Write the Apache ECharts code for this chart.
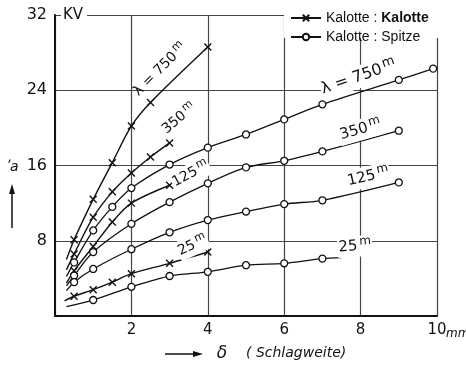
<!DOCTYPE html>
<html>
<head>
<meta charset="utf-8">
<script src="https://cdn.jsdelivr.net/npm/echarts@6/dist/echarts.min.js"></script>
<style>
  html, body { margin: 0; padding: 0; background: #fff; }
  #chart { width: 466px; height: 365px; }
</style>
</head>
<body>
<div id="chart"></div>
<script>
// Breakdown voltage (kV) against spark gap (mm) for several wavelengths λ.
const xRange = [0, 10];
const yRange = [0, 32];
const xStep = 2;
const yStep = 8;

// Kalotte : Kalotte (cross markers). First point of each list is where the
// drawn curve begins (no marker).
const kal750 = [[0.3, 6.0], [0.5, 8.1], [1, 12.4], [1.5, 16.3], [2, 20.2], [2.5, 22.7], [4, 28.6]];
const kal350 = [[0.3, 4.9], [0.5, 6.6], [1, 10.5], [1.5, 13.2], [2, 15.2], [2.5, 16.9], [3, 18.4]];
const kal125 = [[0.3, 3.5], [0.5, 4.8], [1, 7.4], [1.5, 10.0], [2, 12.0], [3, 13.9]];
const kal25  = [[0.25, 1.6], [0.5, 2.1], [1, 2.8], [1.5, 3.6], [2, 4.5], [3, 5.6], [4, 6.8]];

// Kalotte : Spitze (circle markers)
const spi750 = [[0.3, 4.2], [0.5, 5.7], [1, 9.1], [1.5, 11.6], [2, 13.6], [3, 16.1], [4, 17.9], [5, 19.3], [6, 20.9], [7, 22.5], [9, 25.1], [9.9, 26.3]];
const spi350 = [[0.3, 3.2], [0.5, 4.3], [1, 6.8], [2, 9.8], [3, 12.1], [4, 14.1], [5, 15.8], [6, 16.5], [7, 17.5], [9, 19.7]];
const spi125 = [[0.3, 2.7], [0.5, 3.6], [1, 5.0], [2, 7.1], [3, 8.9], [4, 10.2], [5, 11.1], [6, 11.9], [7, 12.3], [9, 14.2]];
const spi25  = [[0.3, 1.0], [1, 1.7], [2, 3.1], [3, 4.25], [4, 4.7], [5, 5.4], [6, 5.6], [7, 6.1]];
const spi25End = [7.5, 6.2];

const seriesNames = ['Kalotte : Kalotte', 'Kalotte : Spitze'];

// Curve captions: [text, x, y, angle in degrees, knocks out grid lines behind it]
const kalLabels = [
  ['λ = 750', 2.75, 26.2, 45, false],
  ['350', 3.25, 21.0, 40, false],
  ['125', 3.55, 15.1, 28, true],
  ['25', 3.6, 7.5, 25, true]
];
const spiLabels = [
  ['λ = 750', 7.95, 25.4, 19, true],
  ['350', 8.0, 19.8, 16, true],
  ['125', 8.2, 14.8, 13, true],
  ['25', 7.85, 7.4, 4, true]
];

const INK = '#111';
const crossPath = 'path://M0,0L10,10M10,0L0,10';

function build(points, end) {
  const out = points.map((p, i) => i === 0 ? { value: p, symbol: 'none' } : { value: p });
  if (end) out.push({ value: end, symbol: 'none' });
  return out;
}

function kalSeries(points) {
  return {
    name: seriesNames[0], type: 'line', smooth: 0.3, data: build(points),
    symbol: crossPath, symbolSize: 7,
    lineStyle: { color: INK, width: 1.4 },
    itemStyle: { color: INK, borderColor: INK, borderWidth: 1.4 },
    emphasis: { disabled: true }, z: 3
  };
}
function spiSeries(points, end) {
  return {
    name: seriesNames[1], type: 'line', smooth: 0.3, data: build(points, end),
    symbol: 'circle', symbolSize: 7,
    lineStyle: { color: INK, width: 1.3 },
    itemStyle: { color: '#fff', borderColor: INK, borderWidth: 1.3 },
    emphasis: { disabled: true }, z: 3
  };
}

const chart = echarts.init(document.getElementById('chart'), null, { renderer: 'canvas' });
const FONT = 'DejaVu Sans';

chart.setOption({
  animation: false,
  backgroundColor: '#fff',
  grid: { left: 55, right: 29, top: 15, bottom: 49 },
  xAxis: {
    type: 'value', min: xRange[0], max: xRange[1], interval: xStep,
    axisLine: { lineStyle: { color: INK, width: 2 } },
    axisTick: { show: false },
    splitLine: { lineStyle: { color: '#444', width: 1.2 } },
    axisLabel: {
      color: INK, fontFamily: FONT, fontSize: 15, margin: 7,
      formatter: v => v === 0 ? '' : String(v)
    }
  },
  yAxis: {
    type: 'value', min: yRange[0], max: yRange[1], interval: yStep,
    axisLine: { show: true, lineStyle: { color: INK, width: 2 } },
    axisTick: { show: false },
    splitLine: { lineStyle: { color: '#444', width: 1.2 } },
    axisLabel: {
      color: INK, fontFamily: FONT, fontSize: 16, margin: 8,
      formatter: v => v === 0 ? '' : String(v)
    }
  },
  legend: {
    orient: 'vertical', left: 285, top: 6, itemGap: 5,
    itemWidth: 30, itemHeight: 8,
    data: seriesNames,
    textStyle: {
      color: INK, fontFamily: 'Liberation Sans', fontSize: 14,
      rich: { b: { color: INK, fontFamily: 'Liberation Sans', fontSize: 14, fontWeight: 'bold' } }
    },
    formatter: n => n === seriesNames[0] ? 'Kalotte : {b|Kalotte}' : n,
    selectedMode: false
  },
  series: [
    kalSeries(kal750), kalSeries(kal350), kalSeries(kal125), kalSeries(kal25),
    spiSeries(spi750), spiSeries(spi350), spiSeries(spi125), spiSeries(spi25, spi25End)
  ]
});

function caption(item, size) {
  const [txt, x, y, deg, knockout] = item;
  const p = chart.convertToPixel({ gridIndex: 0 }, [x, y]);
  return {
    type: 'text', x: p[0], y: p[1], rotation: deg * Math.PI / 180, z: 10,
    style: {
      text: txt + '{m|m}', fill: INK, font: size + 'px "DejaVu Sans"',
      align: 'center', verticalAlign: 'middle',
      backgroundColor: knockout ? '#fff' : 'transparent', padding: [0, 1],
      rich: { m: { fontSize: size - 3, fontFamily: 'DejaVu Sans', fill: INK, padding: [0, 0, 9, 2] } }
    }
  };
}

const gridTop = chart.convertToPixel({ gridIndex: 0 }, [0, yRange[1]]);
const graphics = [
  // legend panel
  { type: 'rect', shape: { x: 284, y: 0, width: 182, height: 38 }, style: { fill: '#fff' }, z: 1 },
  { type: 'text', x: gridTop[0] + 6, y: gridTop[1], z: 10,
    style: { text: 'KV', fill: INK, font: '15px "DejaVu Sans"', verticalAlign: 'middle', backgroundColor: '#fff', padding: [2, 4, 2, 2] } },
  { type: 'text', x: 6, y: 167, z: 10,
    style: { text: 'ʹa', fill: INK, font: 'italic 14px "DejaVu Sans"', verticalAlign: 'middle' } },
  { type: 'line', shape: { x1: 12, y1: 228, x2: 12, y2: 190 }, style: { stroke: INK, lineWidth: 1.5 }, z: 10 },
  { type: 'polygon', shape: { points: [[12, 184], [9, 194], [15, 194]] }, style: { fill: INK }, z: 10 },
  { type: 'line', shape: { x1: 165, y1: 354, x2: 196, y2: 354 }, style: { stroke: INK, lineWidth: 1.5 }, z: 10 },
  { type: 'polygon', shape: { points: [[203, 354], [193, 351], [193, 357]] }, style: { fill: INK }, z: 10 },
  { type: 'text', x: 222, y: 354, z: 10,
    style: { text: 'δ', fill: INK, font: 'italic 17px "DejaVu Sans"', align: 'center', verticalAlign: 'middle' } },
  { type: 'text', x: 246, y: 353, z: 10,
    style: { text: '( Schlagweite)', fill: INK, font: 'italic 14px "DejaVu Sans"', verticalAlign: 'middle' } },
  { type: 'text', x: 446, y: 334, z: 10,
    style: { text: 'mm', fill: INK, font: 'italic 12px "DejaVu Sans"', verticalAlign: 'middle' } }
];
kalLabels.forEach(l => graphics.push(caption(l, 14)));
spiLabels.forEach((l, i) => graphics.push(caption(l, i === 0 ? 16 : 15)));

chart.setOption({ graphic: graphics });
</script>
</body>
</html>
